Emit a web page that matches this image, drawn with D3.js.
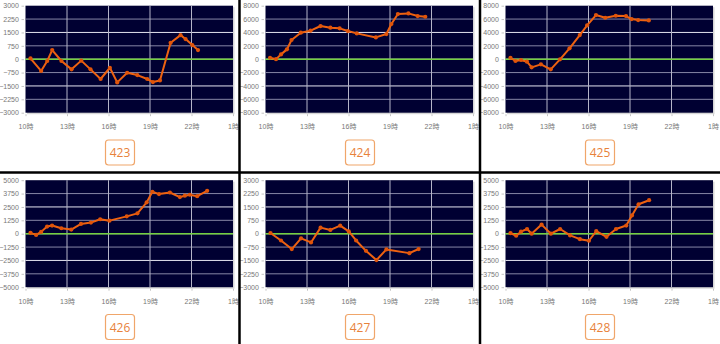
<!DOCTYPE html>
<html>
<head>
<meta charset="utf-8">
<script src="https://cdn.jsdelivr.net/npm/d3@7"></script>
<style>
  html, body { margin: 0; padding: 0; background: #fff; }
  svg { display: block; }
  .axis text { font-family: "Liberation Sans", "Noto Sans CJK JP", sans-serif; font-size: 7px; fill: #777; }
  .axis line { stroke: #c4c4c4; }
  .axis path { display: none; }
</style>
</head>
<body>
<svg id="chart" width="720" height="344"></svg>
<script>
// Machine numbers shown under each chart
const machineIds = ["423", "424", "425", "426", "427", "428"];
// Symmetric y-axis limit for each machine
const yLimits = [3000, 8000, 8000, 5000, 3000, 5000];
// Hour ticks on the time axis (25 = 1 o'clock next day)
const hourTicks = [10, 13, 16, 19, 22, 25];
const hourLabels = ["10時", "13時", "16時", "19時", "22時", "1時"];

// Difference over time, per machine (hour of day, value)
const hours423 = [10.36, 11.13, 11.57, 11.93, 12.6, 13.33, 14.03, 14.7, 15.43, 16.1, 16.63, 17.35, 18.08, 18.8, 19.21, 19.72, 20.49, 21.21, 21.57, 22.06, 22.47];
const values423 = [50, -660, -100, 510, -100, -570, -80, -570, -1110, -480, -1300, -760, -890, -1110, -1280, -1190, 920, 1350, 1130, 790, 510];

const hours424 = [10.33, 10.76, 11.12, 11.55, 11.88, 12.55, 13.26, 13.98, 14.69, 15.36, 15.95, 16.6, 17.98, 18.74, 19.1, 19.57, 20.33, 21.0, 21.55];
const values424 = [220, 0, 720, 1470, 2870, 3960, 4260, 4960, 4710, 4610, 4210, 3860, 3260, 3760, 5260, 6750, 6850, 6450, 6350];

const hours425 = [10.36, 10.72, 11.12, 11.55, 11.89, 12.56, 13.27, 13.94, 14.63, 15.37, 15.9, 16.54, 17.21, 17.97, 18.71, 19.12, 19.59, 20.36];
const values425 = [220, -270, -120, -370, -1220, -770, -1520, -20, 1620, 3610, 5060, 6600, 6200, 6500, 6450, 6000, 5850, 5800];

const hours426 = [10.36, 10.77, 11.13, 11.56, 11.92, 12.59, 13.31, 14.01, 14.73, 15.4, 16.07, 17.32, 18.09, 18.76, 19.17, 19.65, 20.44, 21.16, 21.52, 21.88, 22.41, 23.13];
const values426 = [80, -110, 170, 670, 760, 510, 390, 910, 1040, 1350, 1220, 1620, 1900, 2930, 3920, 3700, 3850, 3420, 3550, 3640, 3510, 4010];

const hours427 = [10.36, 11.12, 11.9, 12.57, 13.29, 13.98, 14.69, 15.4, 16.02, 16.55, 17.26, 18.02, 18.74, 20.4, 21.07];
const values427 = [40, -380, -860, -260, -490, 340, 210, 450, 130, -380, -960, -1480, -880, -1090, -860];

const hours428 = [10.36, 10.77, 11.12, 11.56, 11.89, 12.61, 13.28, 13.95, 14.67, 15.38, 16.03, 16.56, 17.3, 17.99, 18.73, 19.14, 19.62, 20.38];
const values428 = [60, -190, 190, 440, 0, 850, 0, 440, -160, -510, -660, 250, -290, 440, 760, 1710, 2750, 3130];

const hourSeries = [hours423, hours424, hours425, hours426, hours427, hours428];
const valueSeries = [values423, values424, values425, values426, values427, values428];

const svg = d3.select("#chart");
const cellW = 240, rowY = [0, 174.5];
const padLeft = 25.5, padTop = 5.7, plotW = 207.5, plotH = 107;

machineIds.forEach((id, i) => {
  const col = i % 3, row = Math.floor(i / 3);
  const x0 = col * cellW, y0 = rowY[row];
  const left = x0 + padLeft, top = y0 + padTop;
  const lim = yLimits[i];

  const x = d3.scaleLinear().domain([10, 25]).range([left, left + plotW]);
  const y = d3.scaleLinear().domain([-lim, lim]).range([top + plotH, top]);
  const yTicks = d3.range(9).map(k => -lim + k * lim / 4);

  const g = svg.append("g");

  // drop shadow and plot background
  g.append("rect").attr("x", left + 1.5).attr("y", top + 1.5)
    .attr("width", plotW).attr("height", plotH).attr("fill", "#d6d6d6");
  g.append("rect").attr("x", left).attr("y", top)
    .attr("width", plotW).attr("height", plotH).attr("fill", "#000032");

  // horizontal grid
  g.selectAll(".hgrid").data(yTicks.slice(1, -1)).join("line")
    .attr("x1", left).attr("x2", left + plotW)
    .attr("y1", d => y(d)).attr("y2", d => y(d))
    .attr("stroke", (d, k) => (k % 2 === 1 ? "#e4e4f0" : "#8686a6"))
    .attr("stroke-width", 1);

  // vertical grid
  g.selectAll(".vgrid").data(hourTicks.slice(1, -1)).join("line")
    .attr("x1", d => x(d)).attr("x2", d => x(d))
    .attr("y1", top).attr("y2", top + plotH)
    .attr("stroke", "#b4b4c8").attr("stroke-width", 1);

  // zero line
  g.append("line").attr("x1", left).attr("x2", left + plotW)
    .attr("y1", y(0)).attr("y2", y(0))
    .attr("stroke", "#74d040").attr("stroke-width", 1.5);

  // axes
  g.append("g").attr("class", "axis")
    .attr("transform", `translate(${left - 1.5},0)`)
    .call(d3.axisLeft(y).tickValues(yTicks).tickSize(2.5).tickPadding(2.6).tickFormat(d3.format("d")));

  g.append("g").attr("class", "axis")
    .attr("transform", `translate(0,${top + plotH + 1.5})`)
    .call(d3.axisBottom(x).tickValues(hourTicks).tickSize(2).tickPadding(8)
      .tickFormat((d, k) => hourLabels[k]));

  // series
  const pts = hourSeries[i].map((h, k) => [h, valueSeries[i][k]]);
  g.append("path").datum(pts)
    .attr("d", d3.line().x(d => x(d[0])).y(d => y(d[1])))
    .attr("fill", "none").attr("stroke", "#ee6211").attr("stroke-width", 2)
    .attr("stroke-linejoin", "round");
  g.selectAll(".dot").data(pts).join("circle")
    .attr("cx", d => x(d[0])).attr("cy", d => y(d[1])).attr("r", 2.1)
    .attr("fill", "#e0540a");

  // machine number button
  g.append("rect").attr("x", x0 + 105.5).attr("y", y0 + 140)
    .attr("width", 29).attr("height", 25).attr("rx", 3)
    .attr("fill", "#fff").attr("stroke", "#f0a66a").attr("stroke-width", 1.2);
  g.append("text").attr("x", x0 + 120).attr("y", y0 + 152.8)
    .attr("text-anchor", "middle").attr("dominant-baseline", "central")
    .attr("font-family", "'Open Sans', 'Liberation Sans', sans-serif")
    .attr("font-size", 12).attr("fill", "#e8823a").text(id);
});

// black cell dividers
svg.append("line").attr("x1", 239.5).attr("x2", 239.5).attr("y1", 0).attr("y2", 344)
  .attr("stroke", "#000").attr("stroke-width", 2.5);
svg.append("line").attr("x1", 480).attr("x2", 480).attr("y1", 0).attr("y2", 344)
  .attr("stroke", "#000").attr("stroke-width", 2.5);
svg.append("line").attr("x1", 0).attr("x2", 720).attr("y1", 172.5).attr("y2", 172.5)
  .attr("stroke", "#000").attr("stroke-width", 2.5);
</script>
</body>
</html>
